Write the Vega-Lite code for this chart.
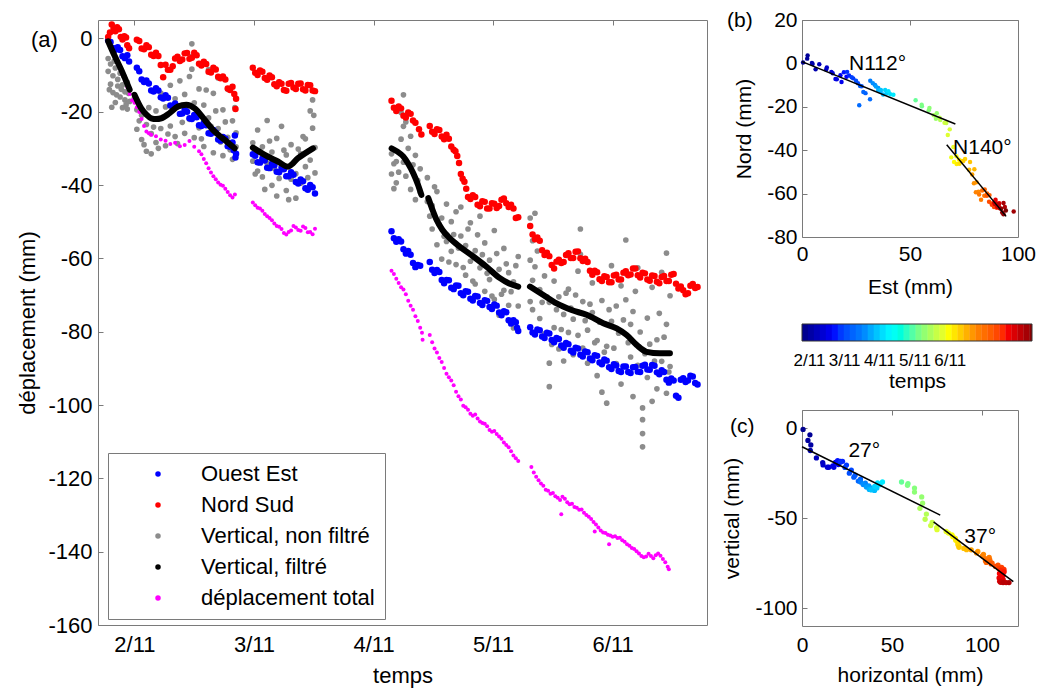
{
  "$schema": "https://vega.github.io/schema/vega-lite/v6.json",
  "background": "white",
  "padding": {"left": 16, "top": 8, "right": 2, "bottom": 2},
  "config": {
    "font": "Liberation Sans",
    "view": {"stroke": "#7a7a7a", "strokeWidth": 1},
    "axis": {"domain": false, "ticks": false, "grid": true, "gridColor": "#7a7a7a", "gridDash": [5, 3000], "gridOpacity": 1, "gridWidth": 1, "labelColor": "#000000", "titleColor": "#000000", "titleFontWeight": "normal", "labelFont": "Liberation Sans", "titleFont": "Liberation Sans", "labelFlush": false, "labelOverlap": false, "labelBound": false},
    "title": {"fontWeight": "normal", "color": "#000000", "font": "Liberation Sans"},
    "text": {"font": "Liberation Sans", "color": "#000000"}
  },
  "datasets": {
    "oe": [
      {"t":1.78,"v":-0.5},{"t":1.82,"v":-2.6},{"t":1.86,"v":-2.4},{"t":1.90,"v":-4.9},{"t":1.94,"v":-4.6},{"t":1.955,"v":-6.3},{"t":2.02,"v":-8.0},{"t":2.06,"v":-11.2},{"t":2.10,"v":-11.5},{"t":2.14,"v":-14.2},{"t":2.18,"v":-13.6},{"t":2.22,"v":-16.1},{"t":2.26,"v":-15.5},{"t":2.30,"v":-18.3},{"t":2.34,"v":-17.8},{"t":2.38,"v":-20.6},{"t":2.42,"v":-19.4},{"t":2.46,"v":-21.8},{"t":2.50,"v":-20.9},{"t":2.54,"v":-23.7},{"t":2.58,"v":-23.0},{"t":2.62,"v":-25.9},{"t":2.66,"v":-25.0},{"t":2.70,"v":-27.6},{"t":2.74,"v":-26.9},{"t":2.78,"v":-29.4},{"t":2.82,"v":-28.4},{"t":2.84,"v":-26.5},{"t":2.845,"v":-32.5},{"t":2.85,"v":-31.5},
      {"t":1.80,"v":-1.0},{"t":1.84,"v":-3.1},{"t":1.88,"v":-3.2},{"t":1.92,"v":-5.4},{"t":2.04,"v":-9.0},{"t":2.08,"v":-11.9},{"t":2.12,"v":-12.3},{"t":2.16,"v":-14.5},{"t":2.20,"v":-14.2},{"t":2.24,"v":-16.4},{"t":2.28,"v":-16.2},{"t":2.32,"v":-18.6},{"t":2.36,"v":-18.5},{"t":2.40,"v":-20.5},{"t":2.44,"v":-20.0},{"t":2.48,"v":-22.0},{"t":2.52,"v":-21.5},{"t":2.56,"v":-23.9},{"t":2.60,"v":-23.7},{"t":2.64,"v":-26.0},{"t":2.68,"v":-25.7},{"t":2.72,"v":-27.9},{"t":2.76,"v":-27.4},{"t":2.80,"v":-29.6},{"t":2.83,"v":-30.5},
      {"t":2.99,"v":-31.6},{"t":3.03,"v":-33.8},{"t":3.07,"v":-32.8},{"t":3.11,"v":-35.3},{"t":3.15,"v":-34.2},{"t":3.19,"v":-36.4},{"t":3.23,"v":-35.3},{"t":3.27,"v":-37.6},{"t":3.31,"v":-36.5},{"t":3.35,"v":-39.2},{"t":3.39,"v":-38.5},{"t":3.43,"v":-40.9},{"t":3.47,"v":-40.0},{"t":3.51,"v":-42.3},
      {"t":3.01,"v":-32.0},{"t":3.05,"v":-33.9},{"t":3.09,"v":-33.3},{"t":3.13,"v":-35.4},{"t":3.17,"v":-34.6},{"t":3.21,"v":-36.5},{"t":3.25,"v":-35.7},{"t":3.29,"v":-37.6},{"t":3.33,"v":-37.2},{"t":3.37,"v":-39.6},{"t":3.41,"v":-39.0},{"t":3.45,"v":-41.3},{"t":3.49,"v":-40.6},
      {"t":4.15,"v":-52.6},{"t":4.19,"v":-55.5},{"t":4.23,"v":-55.4},{"t":4.27,"v":-58.7},{"t":4.31,"v":-59.0},{"t":4.35,"v":-62.4},{"t":4.39,"v":-62.0},{"t":4.47,"v":-61.0},{"t":4.51,"v":-64.0},{"t":4.55,"v":-63.7},{"t":4.59,"v":-66.8},{"t":4.63,"v":-66.0},{"t":4.67,"v":-68.4},{"t":4.71,"v":-67.5},{"t":4.75,"v":-70.1},{"t":4.79,"v":-69.1},{"t":4.83,"v":-71.5},{"t":4.87,"v":-70.4},{"t":4.91,"v":-72.7},{"t":4.95,"v":-71.6},{"t":4.99,"v":-73.8},{"t":5.03,"v":-72.9},{"t":5.07,"v":-75.5},{"t":5.11,"v":-74.7},{"t":5.15,"v":-77.8},{"t":5.19,"v":-77.4},{"t":5.21,"v":-79.8},
      {"t":4.17,"v":-54.5},{"t":4.21,"v":-54.8},{"t":4.25,"v":-57.5},{"t":4.29,"v":-58.0},{"t":4.33,"v":-61.3},{"t":4.37,"v":-61.8},{"t":4.49,"v":-63.1},{"t":4.53,"v":-63.2},{"t":4.57,"v":-65.9},{"t":4.61,"v":-65.9},{"t":4.65,"v":-68.0},{"t":4.69,"v":-67.4},{"t":4.73,"v":-69.5},{"t":4.77,"v":-69.0},{"t":4.81,"v":-71.0},{"t":4.85,"v":-70.3},{"t":4.89,"v":-72.2},{"t":4.93,"v":-71.4},{"t":4.97,"v":-73.3},{"t":5.01,"v":-72.6},{"t":5.05,"v":-74.8},{"t":5.09,"v":-74.4},{"t":5.13,"v":-76.9},{"t":5.17,"v":-76.9},{"t":5.20,"v":-78.9},
      {"t":5.31,"v":-78.8},{"t":5.35,"v":-80.8},{"t":5.39,"v":-79.6},{"t":5.43,"v":-81.7},{"t":5.47,"v":-80.5},{"t":5.51,"v":-82.9},{"t":5.55,"v":-82.0},{"t":5.59,"v":-84.4},{"t":5.63,"v":-83.4},{"t":5.67,"v":-85.7},{"t":5.71,"v":-84.6},{"t":5.75,"v":-86.8},{"t":5.79,"v":-85.6},{"t":5.83,"v":-87.8},{"t":5.87,"v":-86.6},{"t":5.91,"v":-88.9},{"t":5.95,"v":-87.9},{"t":5.99,"v":-90.2},{"t":6.03,"v":-89.2},{"t":6.07,"v":-91.0},{"t":6.11,"v":-89.5},{"t":6.15,"v":-91.3},{"t":6.19,"v":-89.6},{"t":6.23,"v":-91.0},{"t":6.27,"v":-89.0},{"t":6.31,"v":-90.4},{"t":6.35,"v":-89.3},{"t":6.39,"v":-91.6},{"t":6.43,"v":-91.0},{"t":6.47,"v":-93.9},{"t":6.51,"v":-93.3},{"t":6.53,"v":-97.5},{"t":6.55,"v":-98.0},{"t":6.59,"v":-92.7},{"t":6.63,"v":-93.3},{"t":6.67,"v":-92.2},{"t":6.71,"v":-94.4},
      {"t":5.33,"v":-80.2},{"t":5.37,"v":-79.4},{"t":5.41,"v":-81.3},{"t":5.45,"v":-80.3},{"t":5.49,"v":-82.3},{"t":5.53,"v":-81.7},{"t":5.57,"v":-83.8},{"t":5.61,"v":-83.1},{"t":5.65,"v":-85.2},{"t":5.69,"v":-84.4},{"t":5.73,"v":-86.3},{"t":5.77,"v":-85.4},{"t":5.81,"v":-87.3},{"t":5.85,"v":-86.4},{"t":5.89,"v":-88.4},{"t":5.93,"v":-87.6},{"t":5.97,"v":-89.7},{"t":6.01,"v":-88.9},{"t":6.05,"v":-90.7},{"t":6.09,"v":-89.5},{"t":6.13,"v":-91.0},{"t":6.17,"v":-89.7},{"t":6.21,"v":-90.9},{"t":6.25,"v":-89.3},{"t":6.29,"v":-90.3},{"t":6.33,"v":-89.1},{"t":6.37,"v":-91.1},{"t":6.41,"v":-90.5},{"t":6.45,"v":-93.1},{"t":6.49,"v":-92.8},{"t":6.57,"v":-93.1},{"t":6.61,"v":-93.7},{"t":6.65,"v":-92.0},{"t":6.69,"v":-94.0}
    ],
    "ns": [
      {"t":1.78,"v":0.4},{"t":1.81,"v":3.8},{"t":1.84,"v":1.9},{"t":1.87,"v":2.5},{"t":1.90,"v":-0.3},{"t":1.93,"v":0.2},{"t":1.955,"v":-2.7},{"t":2.02,"v":-0.4},{"t":2.06,"v":-2.8},{"t":2.10,"v":-1.9},{"t":2.14,"v":-4.5},{"t":2.18,"v":-3.9},{"t":2.22,"v":-7.3},{"t":2.24,"v":-10.6},{"t":2.26,"v":-7.2},{"t":2.30,"v":-8.6},{"t":2.34,"v":-5.5},{"t":2.38,"v":-6.2},{"t":2.42,"v":-4.1},{"t":2.46,"v":-5.6},{"t":2.50,"v":-3.9},{"t":2.54,"v":-6.9},{"t":2.58,"v":-6.4},{"t":2.62,"v":-9.1},{"t":2.66,"v":-8.0},{"t":2.70,"v":-10.5},{"t":2.74,"v":-10.4},{"t":2.78,"v":-13.7},{"t":2.82,"v":-13.2},{"t":2.845,"v":-19.3},{"t":2.85,"v":-16.5},
      {"t":1.795,"v":1.6},{"t":1.825,"v":2.7},{"t":1.855,"v":3.0},{"t":1.885,"v":0.4},{"t":1.915,"v":0.6},{"t":1.94,"v":-1.9},{"t":2.04,"v":-0.7},{"t":2.08,"v":-3.0},{"t":2.12,"v":-2.4},{"t":2.16,"v":-4.8},{"t":2.20,"v":-4.8},{"t":2.28,"v":-8.6},{"t":2.32,"v":-7.6},{"t":2.36,"v":-5.0},{"t":2.40,"v":-5.8},{"t":2.44,"v":-4.0},{"t":2.48,"v":-5.3},{"t":2.52,"v":-4.6},{"t":2.56,"v":-7.4},{"t":2.60,"v":-7.0},{"t":2.64,"v":-9.3},{"t":2.68,"v":-8.5},{"t":2.72,"v":-10.9},{"t":2.76,"v":-11.2},{"t":2.80,"v":-14.1},{"t":2.835,"v":-15.2},
      {"t":2.99,"v":-8.0},{"t":3.03,"v":-10.0},{"t":3.07,"v":-9.1},{"t":3.11,"v":-11.3},{"t":3.15,"v":-10.6},{"t":3.19,"v":-13.1},{"t":3.23,"v":-12.4},{"t":3.27,"v":-14.3},{"t":3.31,"v":-12.2},{"t":3.35,"v":-13.8},{"t":3.39,"v":-12.3},{"t":3.43,"v":-14.2},{"t":3.47,"v":-12.8},{"t":3.51,"v":-14.4},
      {"t":3.01,"v":-9.4},{"t":3.05,"v":-8.8},{"t":3.09,"v":-10.8},{"t":3.13,"v":-10.1},{"t":3.17,"v":-12.5},{"t":3.21,"v":-12.0},{"t":3.25,"v":-14.1},{"t":3.29,"v":-12.4},{"t":3.33,"v":-13.4},{"t":3.37,"v":-12.4},{"t":3.41,"v":-13.9},{"t":3.45,"v":-12.7},{"t":3.49,"v":-14.2},
      {"t":4.15,"v":-17.0},{"t":4.19,"v":-19.8},{"t":4.23,"v":-19.1},{"t":4.27,"v":-21.6},{"t":4.31,"v":-20.6},{"t":4.35,"v":-23.0},{"t":4.38,"v":-24.8},{"t":4.40,"v":-26.2},{"t":4.47,"v":-23.9},{"t":4.51,"v":-26.1},{"t":4.55,"v":-25.0},{"t":4.59,"v":-27.5},{"t":4.63,"v":-27.4},{"t":4.67,"v":-30.4},{"t":4.70,"v":-32.1},{"t":4.73,"v":-37.0},{"t":4.76,"v":-39.1},{"t":4.79,"v":-43.3},{"t":4.83,"v":-42.8},{"t":4.87,"v":-45.4},{"t":4.91,"v":-44.4},{"t":4.95,"v":-46.4},{"t":4.99,"v":-45.0},{"t":5.03,"v":-46.3},{"t":5.07,"v":-44.0},{"t":5.11,"v":-45.0},{"t":5.15,"v":-45.4},{"t":5.19,"v":-49.0},{"t":5.21,"v":-48.8},
      {"t":4.17,"v":-18.9},{"t":4.21,"v":-18.6},{"t":4.25,"v":-21.1},{"t":4.29,"v":-20.2},{"t":4.33,"v":-22.4},{"t":4.49,"v":-25.5},{"t":4.53,"v":-24.8},{"t":4.57,"v":-26.8},{"t":4.61,"v":-26.3},{"t":4.65,"v":-29.5},{"t":4.685,"v":-30.8},{"t":4.715,"v":-34.0},{"t":4.745,"v":-38.3},{"t":4.775,"v":-41.0},{"t":4.81,"v":-43.8},{"t":4.85,"v":-43.3},{"t":4.89,"v":-45.8},{"t":4.93,"v":-44.6},{"t":4.97,"v":-46.4},{"t":5.01,"v":-45.1},{"t":5.05,"v":-45.7},{"t":5.09,"v":-43.7},{"t":5.13,"v":-46.0},{"t":5.17,"v":-46.4},
      {"t":5.31,"v":-51.2},{"t":5.35,"v":-54.8},{"t":5.39,"v":-55.2},{"t":5.43,"v":-59.1},{"t":5.47,"v":-59.4},{"t":5.51,"v":-62.8},{"t":5.55,"v":-60.4},{"t":5.59,"v":-61.0},{"t":5.63,"v":-58.6},{"t":5.67,"v":-59.9},{"t":5.71,"v":-58.1},{"t":5.75,"v":-60.7},{"t":5.79,"v":-61.0},{"t":5.83,"v":-64.5},{"t":5.87,"v":-63.8},{"t":5.91,"v":-66.2},{"t":5.95,"v":-65.1},{"t":5.99,"v":-66.5},{"t":6.03,"v":-64.5},{"t":6.07,"v":-65.8},{"t":6.11,"v":-63.5},{"t":6.15,"v":-64.4},{"t":6.19,"v":-62.8},{"t":6.23,"v":-65.2},{"t":6.27,"v":-64.1},{"t":6.31,"v":-66.1},{"t":6.35,"v":-64.8},{"t":6.39,"v":-66.8},{"t":6.43,"v":-64.8},{"t":6.47,"v":-66.2},{"t":6.51,"v":-64.3},{"t":6.55,"v":-68.2},{"t":6.59,"v":-68.7},{"t":6.63,"v":-69.5},{"t":6.67,"v":-67.0},{"t":6.71,"v":-67.8},
      {"t":5.33,"v":-53.5},{"t":5.37,"v":-54.3},{"t":5.41,"v":-57.8},{"t":5.45,"v":-58.5},{"t":5.49,"v":-61.8},{"t":5.53,"v":-60.9},{"t":5.57,"v":-61.3},{"t":5.61,"v":-59.1},{"t":5.65,"v":-59.9},{"t":5.69,"v":-58.2},{"t":5.73,"v":-60.0},{"t":5.77,"v":-60.1},{"t":5.81,"v":-63.4},{"t":5.85,"v":-63.4},{"t":5.89,"v":-65.7},{"t":5.93,"v":-64.9},{"t":5.97,"v":-66.5},{"t":6.01,"v":-64.7},{"t":6.05,"v":-65.8},{"t":6.09,"v":-63.9},{"t":6.13,"v":-64.6},{"t":6.17,"v":-62.8},{"t":6.21,"v":-64.6},{"t":6.25,"v":-63.9},{"t":6.29,"v":-65.8},{"t":6.33,"v":-64.7},{"t":6.37,"v":-66.4},{"t":6.41,"v":-65.1},{"t":6.45,"v":-66.2},{"t":6.49,"v":-64.5},{"t":6.53,"v":-66.9},{"t":6.57,"v":-67.7},{"t":6.61,"v":-69.8},{"t":6.65,"v":-67.5},{"t":6.69,"v":-68.1}
    ],
    "vnf": [
      {"t":1.78,"v":-5.5},{"t":1.78,"v":-9.0},{"t":1.79,"v":-14.0},{"t":1.80,"v":-12.5},{"t":1.80,"v":-7.0},{"t":1.81,"v":-18.8},{"t":1.82,"v":-14.8},{"t":1.82,"v":-10.2},{"t":1.83,"v":-6.2},{"t":1.84,"v":-8.1},{"t":1.84,"v":-17.5},{"t":1.85,"v":-15.4},{"t":1.86,"v":-13.0},{"t":1.86,"v":-11.2},{"t":1.87,"v":-7.8},{"t":1.88,"v":-16.0},{"t":1.88,"v":-9.5},{"t":1.89,"v":-13.9},{"t":1.90,"v":-18.9},{"t":1.90,"v":-12.7},{"t":1.91,"v":-10.3},{"t":1.92,"v":-14.6},{"t":1.92,"v":-16.8},{"t":1.93,"v":-18.1},{"t":1.94,"v":-19.3},{"t":1.94,"v":-12.0},{"t":1.95,"v":-15.0},{"t":1.96,"v":-17.2},
      {"t":2.00,"v":-16.3},{"t":2.02,"v":-19.5},{"t":2.02,"v":-24.8},{"t":2.04,"v":-22.5},{"t":2.06,"v":-27.6},{"t":2.06,"v":-21.0},{"t":2.08,"v":-29.0},{"t":2.10,"v":-30.8},{"t":2.10,"v":-23.5},{"t":2.12,"v":-18.9},{"t":2.14,"v":-26.0},{"t":2.14,"v":-31.5},{"t":2.16,"v":-24.2},{"t":2.18,"v":-19.8},{"t":2.18,"v":-28.4},{"t":2.20,"v":-30.0},{"t":2.22,"v":-24.6},{"t":2.22,"v":-14.9},{"t":2.24,"v":-21.5},{"t":2.26,"v":-29.3},{"t":2.26,"v":-18.7},{"t":2.28,"v":-26.1},{"t":2.30,"v":-12.8},{"t":2.30,"v":-23.9},{"t":2.32,"v":-19.0},{"t":2.34,"v":-26.8},{"t":2.34,"v":-16.5},{"t":2.36,"v":-28.7},{"t":2.38,"v":-20.7},{"t":2.38,"v":-11.6},{"t":2.40,"v":-22.9},{"t":2.42,"v":-25.9},{"t":2.42,"v":-15.3},{"t":2.44,"v":-18.6},{"t":2.46,"v":-10.4},{"t":2.46,"v":-22.1},{"t":2.48,"v":-1.5},{"t":2.48,"v":-5.0},{"t":2.48,"v":-8.4},{"t":2.50,"v":-27.1},{"t":2.50,"v":-17.6},{"t":2.52,"v":-21.3},{"t":2.54,"v":-13.8},{"t":2.54,"v":-24.4},{"t":2.56,"v":-27.4},{"t":2.58,"v":-29.5},{"t":2.58,"v":-18.2},{"t":2.60,"v":-14.1},{"t":2.62,"v":-8.5},{"t":2.62,"v":-21.7},{"t":2.64,"v":-24.0},{"t":2.66,"v":-31.2},{"t":2.66,"v":-15.0},{"t":2.68,"v":-19.8},{"t":2.70,"v":-24.6},{"t":2.70,"v":-10.8},{"t":2.72,"v":-28.3},{"t":2.74,"v":-32.0},{"t":2.74,"v":-19.5},{"t":2.76,"v":-22.8},{"t":2.78,"v":-27.0},{"t":2.78,"v":-13.9},{"t":2.80,"v":-30.4},{"t":2.82,"v":-33.0},{"t":2.82,"v":-22.5},{"t":2.84,"v":-18.9},{"t":2.85,"v":-29.6},{"t":2.85,"v":-25.8},
      {"t":2.99,"v":-28.5},{"t":2.99,"v":-33.5},{"t":3.01,"v":-37.0},{"t":3.03,"v":-25.0},{"t":3.03,"v":-36.2},{"t":3.05,"v":-31.0},{"t":3.07,"v":-37.8},{"t":3.07,"v":-29.6},{"t":3.09,"v":-41.2},{"t":3.11,"v":-22.4},{"t":3.11,"v":-34.1},{"t":3.13,"v":-28.0},{"t":3.15,"v":-40.1},{"t":3.15,"v":-31.0},{"t":3.17,"v":-35.5},{"t":3.19,"v":-27.3},{"t":3.19,"v":-43.0},{"t":3.21,"v":-38.2},{"t":3.23,"v":-35.8},{"t":3.23,"v":-24.0},{"t":3.25,"v":-30.5},{"t":3.27,"v":-41.5},{"t":3.27,"v":-31.8},{"t":3.29,"v":-44.0},{"t":3.31,"v":-29.0},{"t":3.31,"v":-38.4},{"t":3.33,"v":-34.0},{"t":3.35,"v":-36.9},{"t":3.35,"v":-43.6},{"t":3.37,"v":-30.2},{"t":3.39,"v":-31.5},{"t":3.39,"v":-39.5},{"t":3.41,"v":-26.8},{"t":3.43,"v":-27.4},{"t":3.43,"v":-35.0},{"t":3.45,"v":-38.0},{"t":3.47,"v":-19.8},{"t":3.47,"v":-33.2},{"t":3.49,"v":-16.8},{"t":3.49,"v":-24.5},{"t":3.50,"v":-21.0},{"t":3.51,"v":-29.8},{"t":3.51,"v":-36.7},
      {"t":4.15,"v":-31.5},{"t":4.15,"v":-37.0},{"t":4.17,"v":-41.0},{"t":4.17,"v":-34.2},{"t":4.19,"v":-33.6},{"t":4.19,"v":-39.4},{"t":4.21,"v":-36.5},{"t":4.23,"v":-20.2},{"t":4.23,"v":-27.5},{"t":4.25,"v":-15.4},{"t":4.25,"v":-24.0},{"t":4.25,"v":-33.8},{"t":4.27,"v":-22.8},{"t":4.27,"v":-37.6},{"t":4.29,"v":-30.0},{"t":4.31,"v":-26.7},{"t":4.31,"v":-41.2},{"t":4.33,"v":-34.5},{"t":4.35,"v":-31.9},{"t":4.35,"v":-44.0},{"t":4.37,"v":-38.8},{"t":4.39,"v":-35.6},{"t":4.39,"v":-42.0},{"t":4.45,"v":-44.5},{"t":4.45,"v":-38.0},{"t":4.47,"v":-48.5},{"t":4.49,"v":-52.0},{"t":4.49,"v":-45.6},{"t":4.51,"v":-40.5},{"t":4.53,"v":-41.8},{"t":4.53,"v":-56.3},{"t":4.55,"v":-50.8},{"t":4.57,"v":-49.0},{"t":4.57,"v":-60.2},{"t":4.59,"v":-54.0},{"t":4.61,"v":-45.2},{"t":4.61,"v":-55.4},{"t":4.63,"v":-61.0},{"t":4.65,"v":-58.1},{"t":4.65,"v":-50.0},{"t":4.67,"v":-53.5},{"t":4.69,"v":-47.3},{"t":4.69,"v":-61.7},{"t":4.71,"v":-57.2},{"t":4.73,"v":-53.9},{"t":4.73,"v":-46.0},{"t":4.75,"v":-62.5},{"t":4.77,"v":-64.6},{"t":4.77,"v":-56.5},{"t":4.79,"v":-52.0},{"t":4.81,"v":-50.3},{"t":4.81,"v":-60.8},{"t":4.83,"v":-66.2},{"t":4.85,"v":-67.0},{"t":4.85,"v":-57.9},{"t":4.87,"v":-53.6},{"t":4.89,"v":-48.5},{"t":4.89,"v":-62.6},{"t":4.91,"v":-59.0},{"t":4.93,"v":-55.8},{"t":4.93,"v":-69.0},{"t":4.95,"v":-64.1},{"t":4.97,"v":-60.5},{"t":4.97,"v":-65.8},{"t":4.99,"v":-70.3},{"t":5.01,"v":-52.4},{"t":5.01,"v":-71.2},{"t":5.03,"v":-58.7},{"t":5.05,"v":-63.0},{"t":5.05,"v":-75.5},{"t":5.07,"v":-69.8},{"t":5.09,"v":-57.3},{"t":5.09,"v":-68.7},{"t":5.11,"v":-61.5},{"t":5.13,"v":-72.8},{"t":5.13,"v":-63.9},{"t":5.15,"v":-69.1},{"t":5.17,"v":-79.0},{"t":5.17,"v":-66.4},{"t":5.19,"v":-62.0},{"t":5.21,"v":-59.5},{"t":5.21,"v":-73.0},
      {"t":5.31,"v":-49.0},{"t":5.31,"v":-60.5},{"t":5.31,"v":-71.8},{"t":5.33,"v":-55.2},{"t":5.33,"v":-66.0},{"t":5.33,"v":-74.0},{"t":5.35,"v":-47.7},{"t":5.35,"v":-62.3},{"t":5.37,"v":-58.0},{"t":5.39,"v":-68.5},{"t":5.39,"v":-76.4},{"t":5.41,"v":-72.0},{"t":5.43,"v":-64.8},{"t":5.43,"v":-80.6},{"t":5.45,"v":-70.5},{"t":5.47,"v":-88.6},{"t":5.47,"v":-95.0},{"t":5.47,"v":-72.0},{"t":5.49,"v":-83.5},{"t":5.51,"v":-66.2},{"t":5.51,"v":-78.9},{"t":5.53,"v":-74.0},{"t":5.55,"v":-70.5},{"t":5.55,"v":-84.7},{"t":5.57,"v":-79.4},{"t":5.59,"v":-88.0},{"t":5.59,"v":-75.3},{"t":5.61,"v":-69.5},{"t":5.63,"v":-68.4},{"t":5.63,"v":-80.2},{"t":5.65,"v":-73.6},{"t":5.67,"v":-76.6},{"t":5.67,"v":-86.3},{"t":5.69,"v":-70.0},{"t":5.71,"v":-63.5},{"t":5.71,"v":-81.0},{"t":5.73,"v":-52.0},{"t":5.73,"v":-58.9},{"t":5.75,"v":-71.8},{"t":5.75,"v":-84.5},{"t":5.77,"v":-77.0},{"t":5.79,"v":-79.6},{"t":5.79,"v":-88.6},{"t":5.81,"v":-72.5},{"t":5.83,"v":-66.7},{"t":5.83,"v":-74.8},{"t":5.85,"v":-83.0},{"t":5.87,"v":-82.4},{"t":5.87,"v":-92.0},{"t":5.89,"v":-77.4},{"t":5.91,"v":-71.5},{"t":5.91,"v":-96.5},{"t":5.93,"v":-85.6},{"t":5.95,"v":-84.0},{"t":5.95,"v":-99.5},{"t":5.97,"v":-74.0},{"t":5.99,"v":-62.0},{"t":5.99,"v":-77.2},{"t":6.01,"v":-84.5},{"t":6.03,"v":-88.7},{"t":6.03,"v":-73.0},{"t":6.05,"v":-80.4},{"t":6.07,"v":-67.5},{"t":6.07,"v":-94.3},{"t":6.09,"v":-76.8},{"t":6.11,"v":-55.0},{"t":6.11,"v":-64.2},{"t":6.11,"v":-71.3},{"t":6.13,"v":-83.0},{"t":6.15,"v":-86.9},{"t":6.15,"v":-78.0},{"t":6.17,"v":-97.7},{"t":6.17,"v":-74.5},{"t":6.19,"v":-69.0},{"t":6.21,"v":-62.6},{"t":6.21,"v":-89.2},{"t":6.23,"v":-80.1},{"t":6.25,"v":-100.8},{"t":6.25,"v":-104.0},{"t":6.25,"v":-107.8},{"t":6.25,"v":-111.4},{"t":6.27,"v":-86.0},{"t":6.29,"v":-76.3},{"t":6.29,"v":-92.5},{"t":6.31,"v":-83.4},{"t":6.33,"v":-67.9},{"t":6.33,"v":-99.0},{"t":6.35,"v":-88.0},{"t":6.37,"v":-82.2},{"t":6.37,"v":-95.6},{"t":6.39,"v":-75.0},{"t":6.41,"v":-63.8},{"t":6.41,"v":-88.1},{"t":6.43,"v":-81.5},{"t":6.45,"v":-58.6},{"t":6.45,"v":-96.8},{"t":6.45,"v":-78.0},{"t":6.47,"v":-91.0},{"t":6.48,"v":-70.2},{"t":6.48,"v":-89.5}
    ],
    "vf": [
      {"g":1,"t":1.78,"v":-0.8},{"g":1,"t":1.83,"v":-4.5},{"g":1,"t":1.89,"v":-8.6},{"g":1,"t":1.96,"v":-14.0},
      {"g":2,"t":2.0,"v":-15.4},{"g":2,"t":2.057,"v":-19.1},{"g":2,"t":2.10,"v":-20.8},{"g":2,"t":2.141,"v":-21.8},{"g":2,"t":2.18,"v":-22.0},{"g":2,"t":2.225,"v":-21.8},{"g":2,"t":2.294,"v":-20.4},{"g":2,"t":2.364,"v":-18.6},{"g":2,"t":2.434,"v":-18.1},{"g":2,"t":2.504,"v":-19.1},{"g":2,"t":2.587,"v":-22.2},{"g":2,"t":2.657,"v":-25.0},{"g":2,"t":2.755,"v":-27.7},{"g":2,"t":2.838,"v":-30.0},
      {"g":3,"t":2.99,"v":-29.8},{"g":3,"t":3.09,"v":-31.8},{"g":3,"t":3.2,"v":-33.6},{"g":3,"t":3.284,"v":-35.0},{"g":3,"t":3.368,"v":-32.7},{"g":3,"t":3.493,"v":-30.0},
      {"g":4,"t":4.151,"v":-30.0},{"g":4,"t":4.20,"v":-30.9},{"g":4,"t":4.248,"v":-32.2},{"g":4,"t":4.29,"v":-34.2},{"g":4,"t":4.332,"v":-36.8},{"g":4,"t":4.37,"v":-39.8},{"g":4,"t":4.40,"v":-42.7},
      {"g":5,"t":4.458,"v":-43.6},{"g":5,"t":4.49,"v":-46.5},{"g":5,"t":4.527,"v":-49.5},{"g":5,"t":4.575,"v":-52.2},{"g":5,"t":4.625,"v":-54.1},{"g":5,"t":4.67,"v":-55.5},{"g":5,"t":4.72,"v":-56.8},{"g":5,"t":4.834,"v":-59.5},{"g":5,"t":4.945,"v":-62.3},{"g":5,"t":5.057,"v":-65.4},{"g":5,"t":5.13,"v":-66.8},{"g":5,"t":5.21,"v":-67.7},
      {"g":6,"t":5.308,"v":-67.7},{"g":6,"t":5.42,"v":-70.0},{"g":6,"t":5.531,"v":-72.3},{"g":6,"t":5.656,"v":-74.1},{"g":6,"t":5.782,"v":-75.4},{"g":6,"t":5.921,"v":-77.7},{"g":6,"t":6.033,"v":-79.1},{"g":6,"t":6.117,"v":-80.9},{"g":6,"t":6.2,"v":-83.6},{"g":6,"t":6.284,"v":-85.5},{"g":6,"t":6.395,"v":-85.9},{"g":6,"t":6.479,"v":-85.9}
    ],
    "tot": [
      {"t":1.78,"v":-1.0},{"t":1.80,"v":-2.3},{"t":1.82,"v":-3.6},{"t":1.84,"v":-5.0},{"t":1.86,"v":-6.6},{"t":1.88,"v":-8.3},{"t":1.90,"v":-9.8},{"t":1.92,"v":-11.5},{"t":1.94,"v":-13.3},{"t":1.96,"v":-15.2},{"t":1.98,"v":-16.9},{"t":2.00,"v":-17.6},{"t":2.02,"v":-18.8},{"t":2.04,"v":-20.1},{"t":2.06,"v":-22.0},{"t":2.08,"v":-23.9},{"t":2.10,"v":-25.4},{"t":2.12,"v":-25.9},{"t":2.14,"v":-26.3},{"t":2.18,"v":-26.7},{"t":2.22,"v":-27.6},{"t":2.26,"v":-27.9},{"t":2.30,"v":-28.8},{"t":2.34,"v":-28.5},{"t":2.38,"v":-29.4},{"t":2.42,"v":-29.1},{"t":2.46,"v":-28.0},{"t":2.50,"v":-29.6},{"t":2.54,"v":-30.8},{"t":2.56,"v":-31.6},{"t":2.58,"v":-32.9},{"t":2.60,"v":-34.1},{"t":2.62,"v":-35.4},{"t":2.64,"v":-36.6},{"t":2.66,"v":-37.6},{"t":2.68,"v":-38.4},{"t":2.70,"v":-39.3},{"t":2.72,"v":-39.9},{"t":2.74,"v":-40.2},{"t":2.76,"v":-41.0},{"t":2.78,"v":-41.9},{"t":2.80,"v":-42.8},{"t":2.82,"v":-43.4},{"t":2.84,"v":-42.6},
      {"t":2.99,"v":-44.8},{"t":3.01,"v":-45.5},{"t":3.03,"v":-46.2},{"t":3.05,"v":-46.4},{"t":3.07,"v":-47.0},{"t":3.09,"v":-47.9},{"t":3.11,"v":-48.5},{"t":3.13,"v":-49.0},{"t":3.15,"v":-49.6},{"t":3.17,"v":-50.5},{"t":3.19,"v":-51.2},{"t":3.21,"v":-51.4},{"t":3.23,"v":-52.0},{"t":3.25,"v":-53.1},{"t":3.27,"v":-53.5},{"t":3.29,"v":-52.8},{"t":3.31,"v":-52.4},{"t":3.33,"v":-51.2},{"t":3.35,"v":-51.6},{"t":3.37,"v":-52.3},{"t":3.39,"v":-52.5},{"t":3.41,"v":-51.3},{"t":3.43,"v":-51.7},{"t":3.45,"v":-52.9},{"t":3.47,"v":-52.8},{"t":3.49,"v":-53.4},{"t":3.51,"v":-51.9},
      {"t":4.15,"v":-63.4},{"t":4.17,"v":-64.3},{"t":4.19,"v":-65.6},{"t":4.21,"v":-66.7},{"t":4.23,"v":-67.9},{"t":4.25,"v":-68.5},{"t":4.27,"v":-69.8},{"t":4.29,"v":-71.6},{"t":4.31,"v":-72.9},{"t":4.33,"v":-74.0},{"t":4.35,"v":-75.8},{"t":4.37,"v":-77.1},{"t":4.39,"v":-78.9},{"t":4.405,"v":-80.3},{"t":4.41,"v":-82.2},{"t":4.47,"v":-80.9},{"t":4.49,"v":-82.9},{"t":4.51,"v":-84.6},{"t":4.53,"v":-85.7},{"t":4.55,"v":-87.2},{"t":4.57,"v":-88.3},{"t":4.59,"v":-89.9},{"t":4.61,"v":-91.5},{"t":4.63,"v":-92.4},{"t":4.65,"v":-93.3},{"t":4.67,"v":-94.6},{"t":4.69,"v":-96.4},{"t":4.71,"v":-97.6},{"t":4.73,"v":-98.5},{"t":4.75,"v":-100.2},{"t":4.77,"v":-100.6},{"t":4.79,"v":-101.3},{"t":4.81,"v":-102.4},{"t":4.83,"v":-102.9},{"t":4.85,"v":-102.6},{"t":4.87,"v":-103.7},{"t":4.89,"v":-104.5},{"t":4.91,"v":-104.9},{"t":4.93,"v":-105.1},{"t":4.95,"v":-105.8},{"t":4.97,"v":-106.8},{"t":4.99,"v":-107.3},{"t":5.01,"v":-107.1},{"t":5.03,"v":-107.9},{"t":5.05,"v":-108.6},{"t":5.07,"v":-109.2},{"t":5.09,"v":-110.2},{"t":5.11,"v":-110.9},{"t":5.13,"v":-111.5},{"t":5.15,"v":-112.6},{"t":5.17,"v":-113.8},{"t":5.19,"v":-114.5},{"t":5.21,"v":-115.3},
      {"t":5.32,"v":-116.9},{"t":5.34,"v":-118.4},{"t":5.36,"v":-119.6},{"t":5.38,"v":-120.5},{"t":5.40,"v":-121.4},{"t":5.42,"v":-122.0},{"t":5.44,"v":-123.1},{"t":5.46,"v":-123.4},{"t":5.48,"v":-124.2},{"t":5.50,"v":-124.0},{"t":5.52,"v":-124.9},{"t":5.54,"v":-125.3},{"t":5.56,"v":-125.9},{"t":5.57,"v":-129.8},{"t":5.58,"v":-125.0},{"t":5.60,"v":-125.6},{"t":5.62,"v":-126.5},{"t":5.64,"v":-127.1},{"t":5.66,"v":-126.9},{"t":5.68,"v":-127.8},{"t":5.70,"v":-128.0},{"t":5.72,"v":-128.6},{"t":5.74,"v":-128.5},{"t":5.76,"v":-129.4},{"t":5.78,"v":-130.0},{"t":5.80,"v":-130.5},{"t":5.82,"v":-131.1},{"t":5.84,"v":-131.9},{"t":5.85,"v":-134.5},{"t":5.86,"v":-132.6},{"t":5.88,"v":-133.4},{"t":5.90,"v":-134.2},{"t":5.92,"v":-134.8},{"t":5.94,"v":-134.9},{"t":5.96,"v":-135.4},{"t":5.97,"v":-138.0},{"t":5.98,"v":-135.6},{"t":6.00,"v":-135.9},{"t":6.02,"v":-135.8},{"t":6.04,"v":-136.3},{"t":6.06,"v":-136.2},{"t":6.08,"v":-136.9},{"t":6.10,"v":-137.3},{"t":6.12,"v":-138.0},{"t":6.14,"v":-138.4},{"t":6.16,"v":-139.0},{"t":6.18,"v":-139.3},{"t":6.20,"v":-139.9},{"t":6.22,"v":-140.5},{"t":6.24,"v":-141.2},{"t":6.26,"v":-141.5},{"t":6.28,"v":-141.3},{"t":6.30,"v":-140.6},{"t":6.32,"v":-141.2},{"t":6.34,"v":-141.8},{"t":6.36,"v":-141.0},{"t":6.38,"v":-140.5},{"t":6.40,"v":-141.1},{"t":6.42,"v":-142.0},{"t":6.44,"v":-142.9},{"t":6.46,"v":-144.1},{"t":6.47,"v":-144.8}
    ],
    "pb": [
      {"t":1.78,"e":0.5,"n":0.4},{"t":1.82,"e":2.6,"n":3.6},{"t":1.86,"e":2.4,"n":2.2},{"t":1.90,"e":4.9,"n":-0.3},{"t":1.94,"e":4.6,"n":0.2},{"t":1.955,"e":6.3,"n":-2.7},{"t":2.02,"e":8.0,"n":-0.4},{"t":2.06,"e":11.2,"n":-2.8},{"t":2.10,"e":11.5,"n":-1.9},{"t":2.14,"e":14.2,"n":-4.5},{"t":2.18,"e":13.6,"n":-3.9},{"t":2.22,"e":16.1,"n":-7.3},{"t":2.26,"e":15.5,"n":-7.2},{"t":2.30,"e":18.3,"n":-8.6},{"t":2.34,"e":17.8,"n":-5.5},{"t":2.38,"e":20.6,"n":-6.2},{"t":2.42,"e":19.4,"n":-4.1},{"t":2.46,"e":21.8,"n":-5.6},{"t":2.50,"e":20.9,"n":-3.9},{"t":2.54,"e":23.7,"n":-6.9},{"t":2.58,"e":23.0,"n":-6.4},{"t":2.62,"e":25.9,"n":-9.1},{"t":2.66,"e":25.0,"n":-8.0},{"t":2.70,"e":27.6,"n":-10.5},{"t":2.74,"e":26.9,"n":-10.4},{"t":2.78,"e":29.4,"n":-13.7},{"t":2.82,"e":28.4,"n":-13.2},{"t":2.845,"e":26.5,"n":-19.3},{"t":2.85,"e":31.5,"n":-16.5},
      {"t":2.99,"e":31.6,"n":-8.0},{"t":3.03,"e":33.8,"n":-10.0},{"t":3.07,"e":32.8,"n":-9.1},{"t":3.11,"e":35.3,"n":-11.3},{"t":3.15,"e":34.2,"n":-10.6},{"t":3.19,"e":36.4,"n":-13.1},{"t":3.23,"e":35.3,"n":-12.4},{"t":3.27,"e":37.6,"n":-14.3},{"t":3.31,"e":36.5,"n":-12.2},{"t":3.35,"e":39.2,"n":-13.8},{"t":3.39,"e":38.5,"n":-12.3},{"t":3.43,"e":40.9,"n":-14.2},{"t":3.47,"e":40.0,"n":-12.8},{"t":3.51,"e":42.3,"n":-14.4},
      {"t":4.15,"e":52.6,"n":-17.0},{"t":4.19,"e":55.5,"n":-19.8},{"t":4.23,"e":55.4,"n":-19.1},{"t":4.27,"e":58.7,"n":-21.6},{"t":4.31,"e":59.0,"n":-20.6},{"t":4.35,"e":62.4,"n":-23.0},{"t":4.39,"e":62.0,"n":-25.5},{"t":4.47,"e":61.0,"n":-23.9},{"t":4.51,"e":64.0,"n":-26.1},{"t":4.55,"e":63.7,"n":-25.0},{"t":4.59,"e":66.8,"n":-27.5},{"t":4.63,"e":66.0,"n":-27.4},{"t":4.67,"e":68.4,"n":-30.4},{"t":4.71,"e":67.5,"n":-33.0},{"t":4.75,"e":70.1,"n":-38.5},{"t":4.79,"e":69.1,"n":-43.3},{"t":4.83,"e":71.5,"n":-42.8},{"t":4.87,"e":70.4,"n":-45.4},{"t":4.91,"e":72.7,"n":-44.4},{"t":4.95,"e":71.6,"n":-46.4},{"t":4.99,"e":73.8,"n":-45.0},{"t":5.03,"e":72.9,"n":-46.3},{"t":5.07,"e":75.5,"n":-44.0},{"t":5.11,"e":74.7,"n":-45.0},{"t":5.15,"e":77.8,"n":-45.4},{"t":5.19,"e":77.4,"n":-49.0},{"t":5.21,"e":79.8,"n":-48.8},
      {"t":5.31,"e":78.8,"n":-51.2},{"t":5.35,"e":80.8,"n":-54.8},{"t":5.39,"e":79.6,"n":-55.2},{"t":5.43,"e":81.7,"n":-59.1},{"t":5.47,"e":80.5,"n":-59.4},{"t":5.51,"e":82.9,"n":-62.8},{"t":5.55,"e":82.0,"n":-60.4},{"t":5.59,"e":84.4,"n":-61.0},{"t":5.63,"e":83.4,"n":-58.6},{"t":5.67,"e":85.7,"n":-59.9},{"t":5.71,"e":84.6,"n":-58.1},{"t":5.75,"e":86.8,"n":-60.7},{"t":5.79,"e":85.6,"n":-61.0},{"t":5.83,"e":87.8,"n":-64.5},{"t":5.87,"e":86.6,"n":-63.8},{"t":5.91,"e":88.9,"n":-66.2},{"t":5.95,"e":87.9,"n":-65.1},{"t":5.99,"e":90.2,"n":-66.5},{"t":6.03,"e":89.2,"n":-64.5},{"t":6.07,"e":91.0,"n":-65.8},{"t":6.11,"e":89.5,"n":-63.5},{"t":6.15,"e":91.3,"n":-64.4},{"t":6.19,"e":89.6,"n":-62.8},{"t":6.23,"e":91.0,"n":-65.2},{"t":6.27,"e":89.0,"n":-64.1},{"t":6.31,"e":90.4,"n":-66.1},{"t":6.35,"e":89.3,"n":-64.8},{"t":6.39,"e":91.6,"n":-66.8},{"t":6.43,"e":91.0,"n":-64.8},{"t":6.47,"e":93.9,"n":-66.2},{"t":6.51,"e":93.3,"n":-64.3},{"t":6.55,"e":98.0,"n":-68.2},{"t":6.59,"e":92.7,"n":-68.7},{"t":6.63,"e":93.3,"n":-69.5},{"t":6.67,"e":92.2,"n":-67.0},{"t":6.71,"e":94.4,"n":-67.8}
    ],
    "pc": [
      {"t":1.78,"h":0.6,"v":-0.8},{"t":1.82,"h":4.4,"v":-3.8},{"t":1.86,"h":3.3,"v":-6.9},{"t":1.90,"h":4.9,"v":-9.4},{"t":1.94,"h":4.6,"v":-12.5},{"t":2.02,"h":8.0,"v":-16.6},{"t":2.06,"h":11.5,"v":-19.2},{"t":2.10,"h":11.7,"v":-20.5},{"t":2.14,"h":14.9,"v":-21.8},{"t":2.18,"h":14.1,"v":-21.8},{"t":2.22,"h":17.7,"v":-21.8},{"t":2.26,"h":17.1,"v":-21.1},{"t":2.30,"h":20.2,"v":-20.3},{"t":2.34,"h":18.6,"v":-19.1},{"t":2.38,"h":21.5,"v":-18.5},{"t":2.42,"h":19.8,"v":-18.2},{"t":2.46,"h":22.5,"v":-18.5},{"t":2.50,"h":21.3,"v":-19.0},{"t":2.54,"h":24.7,"v":-20.6},{"t":2.58,"h":23.9,"v":-21.9},{"t":2.62,"h":27.4,"v":-23.4},{"t":2.66,"h":26.3,"v":-25.1},{"t":2.70,"h":29.5,"v":-26.2},{"t":2.74,"h":28.8,"v":-27.3},{"t":2.78,"h":32.5,"v":-28.4},{"t":2.82,"h":31.3,"v":-29.5},
      {"t":2.99,"h":32.6,"v":-30.0},{"t":3.03,"h":35.2,"v":-30.7},{"t":3.07,"h":34.0,"v":-31.4},{"t":3.11,"h":37.1,"v":-32.1},{"t":3.15,"h":35.8,"v":-32.8},{"t":3.19,"h":38.7,"v":-33.4},{"t":3.23,"h":37.4,"v":-34.1},{"t":3.27,"h":40.3,"v":-34.7},{"t":3.31,"h":38.5,"v":-34.4},{"t":3.35,"h":41.6,"v":-33.3},{"t":3.39,"h":40.4,"v":-32.4},{"t":3.43,"h":43.3,"v":-31.5},{"t":3.47,"h":42.0,"v":-30.5},{"t":3.51,"h":44.7,"v":-30.0},
      {"t":4.15,"h":55.3,"v":-30.0},{"t":4.19,"h":58.9,"v":-30.9},{"t":4.23,"h":58.6,"v":-31.8},{"t":4.27,"h":62.5,"v":-33.4},{"t":4.31,"h":62.5,"v":-35.6},{"t":4.35,"h":66.5,"v":-38.3},{"t":4.39,"h":67.0,"v":-41.8},{"t":4.47,"h":65.5,"v":-44.6},{"t":4.51,"h":69.1,"v":-47.8},{"t":4.55,"h":68.4,"v":-50.7},{"t":4.59,"h":72.3,"v":-52.5},{"t":4.63,"h":71.5,"v":-54.2},{"t":4.67,"h":74.8,"v":-55.4},{"t":4.71,"h":75.0,"v":-56.5},{"t":4.75,"h":80.1,"v":-57.5},{"t":4.79,"h":81.4,"v":-58.4},{"t":4.83,"h":83.3,"v":-59.4},{"t":4.87,"h":83.8,"v":-60.4},{"t":4.91,"h":85.2,"v":-61.4},{"t":4.95,"h":85.4,"v":-62.4},{"t":4.99,"h":86.6,"v":-63.5},{"t":5.03,"h":86.6,"v":-64.7},{"t":5.07,"h":87.2,"v":-65.6},{"t":5.11,"h":87.2,"v":-66.3},{"t":5.15,"h":89.9,"v":-66.9},{"t":5.19,"h":91.4,"v":-67.6},
      {"t":5.31,"h":94.0,"v":-67.7},{"t":5.35,"h":97.7,"v":-68.6},{"t":5.39,"h":97.0,"v":-69.4},{"t":5.43,"h":100.8,"v":-70.2},{"t":5.47,"h":100.2,"v":-71.0},{"t":5.51,"h":104.0,"v":-71.9},{"t":5.55,"h":101.9,"v":-72.6},{"t":5.59,"h":104.3,"v":-73.1},{"t":5.63,"h":101.9,"v":-73.7},{"t":5.67,"h":104.5,"v":-74.2},{"t":5.71,"h":102.4,"v":-74.7},{"t":5.75,"h":105.6,"v":-75.1},{"t":5.79,"h":105.1,"v":-75.5},{"t":5.83,"h":108.9,"v":-76.2},{"t":5.87,"h":107.5,"v":-76.9},{"t":5.91,"h":110.9,"v":-77.5},{"t":5.95,"h":109.4,"v":-78.1},{"t":5.99,"h":112.2,"v":-78.6},{"t":6.03,"h":110.4,"v":-79.1},{"t":6.07,"h":112.3,"v":-79.9},{"t":6.11,"h":109.7,"v":-80.8},{"t":6.15,"h":111.7,"v":-82.0},{"t":6.19,"h":109.5,"v":-83.3},{"t":6.23,"h":111.8,"v":-84.3},{"t":6.27,"h":109.8,"v":-85.2},{"t":6.31,"h":111.8,"v":-85.6},{"t":6.35,"h":110.3,"v":-85.7},{"t":6.39,"h":113.4,"v":-85.9},{"t":6.43,"h":111.7,"v":-85.9},{"t":6.47,"h":115.0,"v":-85.9}
    ],
    "cb": [
      {"t":1.80,"t2":1.98},{"t":1.97,"t2":2.15},{"t":2.14,"t2":2.32},{"t":2.31,"t2":2.49},{"t":2.48,"t2":2.66},{"t":2.65,"t2":2.83},{"t":2.82,"t2":3.00},{"t":2.99,"t2":3.17},{"t":3.16,"t2":3.34},{"t":3.33,"t2":3.51},{"t":3.50,"t2":3.68},{"t":3.67,"t2":3.85},{"t":3.84,"t2":4.02},{"t":4.01,"t2":4.19},{"t":4.18,"t2":4.36},{"t":4.35,"t2":4.53},{"t":4.52,"t2":4.70},{"t":4.69,"t2":4.87},{"t":4.86,"t2":5.04},{"t":5.03,"t2":5.21},{"t":5.20,"t2":5.38},{"t":5.37,"t2":5.55},{"t":5.54,"t2":5.72},{"t":5.71,"t2":5.89},{"t":5.88,"t2":6.06},{"t":6.05,"t2":6.23},{"t":6.22,"t2":6.40},{"t":6.39,"t2":6.57},{"t":6.56,"t2":6.74},{"t":6.73,"t2":6.91},{"t":6.90,"t2":7.08},{"t":7.07,"t2":7.25},{"t":7.24,"t2":7.42},{"t":7.41,"t2":7.59},{"t":7.58,"t2":7.76},{"t":7.75,"t2":7.93},{"t":7.92,"t2":8.10},{"t":8.09,"t2":8.27},{"t":8.26,"t2":8.44}
    ],
    "cbf": [{"t":1.803,"t2":8.338}],
    "lb": [{"x1":0,"y1":0.8,"x2":71,"y2":-27.9},{"x1":67,"y1":-37.5,"x2":94.5,"y2":-70.5}],
    "lc": [{"x1":0,"y1":-10.4,"x2":76.8,"y2":-48.4},{"x1":73.1,"y1":-52.1,"x2":117.4,"y2":-85.4}],
    "tb": [{"x":35,"y":-0.3,"label":"N112°"},{"x":83.5,"y":-38.8,"label":"N140°"}],
    "tc": [{"x":34.6,"y":-12.5,"label":"27°"},{"x":99,"y":-60.8,"label":"37°"}]
  },
  "hconcat": [
    {
      "width": 609,
      "height": 605,
      "title": {"text": "(a)", "anchor": "start", "frame": "group", "dx": -67, "offset": -49, "fontSize": 22, "baseline": "alphabetic"},
      "layer": [
        {
          "data": {"name": "vnf"},
          "mark": {"type": "circle", "size": 32, "opacity": 1},
          "encoding": {
            "x": {"field": "t", "type": "quantitative", "scale": {"domain": [1.695, 6.789], "nice": false, "zero": false},
                  "axis": {"orient": "bottom", "values": [2, 3, 4, 5, 6], "labelExpr": "datum.value + '/11'", "title": "temps", "labelFontSize": 22, "titleFontSize": 22, "labelPadding": 9, "titlePadding": 10}},
            "y": {"field": "v", "type": "quantitative", "scale": {"domain": [-160, 5], "nice": false, "zero": false},
                  "axis": {"orient": "left", "values": [-160, -140, -120, -100, -80, -60, -40, -20, 0], "labelExpr": "replace(datum.label, '−', '-')", "title": "déplacement (mm)", "labelFontSize": 22, "titleFontSize": 22, "labelPadding": 6, "titlePadding": 8}},
            "color": {"datum": "Vertical, non filtré", "type": "nominal",
                      "scale": {"domain": ["Ouest Est", "Nord Sud", "Vertical, non filtré", "Vertical, filtré", "déplacement total"], "range": ["#0000ff", "#ff0000", "#8c8c8c", "#000000", "#ff00ff"]},
                      "legend": {"orient": "none", "legendX": 10, "legendY": 433, "title": null, "direction": "vertical", "strokeColor": "#7a7a7a", "fillColor": "#ffffff", "padding": 10, "labelFontSize": 22, "labelFont": "Liberation Sans", "labelColor": "#000000", "symbolType": "circle", "symbolSize": 30, "symbolOffset": 29, "labelOffset": 32, "rowPadding": 9, "symbolStrokeWidth": 0, "labelLimit": 400}}
          }
        },
        {
          "data": {"name": "oe"},
          "mark": {"type": "circle", "size": 42, "opacity": 1},
          "encoding": {
            "x": {"field": "t", "type": "quantitative", "scale": {"domain": [1.695, 6.789], "nice": false, "zero": false},
                  "axis": {"orient": "top", "values": [2, 3, 4, 5, 6], "labels": false, "title": null}},
            "y": {"field": "v", "type": "quantitative", "scale": {"domain": [-160, 5], "nice": false, "zero": false},
                  "axis": {"orient": "right", "values": [-160, -140, -120, -100, -80, -60, -40, -20, 0], "labels": false, "title": null}},
            "color": {"datum": "Ouest Est", "type": "nominal"}
          }
        },
        {
          "data": {"name": "ns"},
          "mark": {"type": "circle", "size": 42, "opacity": 1},
          "encoding": {
            "x": {"field": "t", "type": "quantitative", "scale": {"domain": [1.695, 6.789], "nice": false, "zero": false}, "axis": null},
            "y": {"field": "v", "type": "quantitative", "scale": {"domain": [-160, 5], "nice": false, "zero": false}, "axis": null},
            "color": {"datum": "Nord Sud", "type": "nominal"}
          }
        },
        {
          "data": {"name": "tot"},
          "mark": {"type": "circle", "size": 16, "opacity": 1},
          "encoding": {
            "x": {"field": "t", "type": "quantitative", "scale": {"domain": [1.695, 6.789], "nice": false, "zero": false}, "axis": null},
            "y": {"field": "v", "type": "quantitative", "scale": {"domain": [-160, 5], "nice": false, "zero": false}, "axis": null},
            "color": {"datum": "déplacement total", "type": "nominal"}
          }
        },
        {
          "data": {"name": "vf"},
          "mark": {"type": "line", "strokeWidth": 6, "interpolate": "monotone", "strokeCap": "round"},
          "encoding": {
            "x": {"field": "t", "type": "quantitative", "scale": {"domain": [1.695, 6.789], "nice": false, "zero": false}, "axis": null},
            "y": {"field": "v", "type": "quantitative", "scale": {"domain": [-160, 5], "nice": false, "zero": false}, "axis": null},
            "detail": {"field": "g", "type": "nominal"},
            "color": {"datum": "Vertical, filtré", "type": "nominal"}
          }
        }
      ],
      "resolve": {"axis": {"x": "independent", "y": "independent"}}
    },
    {
      "vconcat": [
        {
          "width": 216,
          "height": 217,
          "title": {"text": "(b)", "anchor": "start", "frame": "group", "dx": -75, "offset": -39, "fontSize": 21, "baseline": "alphabetic"},
          "layer": [
            {
              "data": {"name": "pb"},
              "mark": {"type": "circle", "size": 20, "opacity": 1},
              "encoding": {
                "x": {"field": "e", "type": "quantitative", "scale": {"domain": [0, 100], "nice": false, "zero": false},
                      "axis": {"orient": "bottom", "values": [0, 50, 100], "title": "Est (mm)", "labelFontSize": 21, "titleFontSize": 21, "labelPadding": 6, "titlePadding": 12}},
                "y": {"field": "n", "type": "quantitative", "scale": {"domain": [-80, 20], "nice": false, "zero": false},
                      "axis": {"orient": "left", "values": [-80, -60, -40, -20, 0, 20], "labelExpr": "replace(datum.label, '−', '-')", "title": "Nord (mm)", "labelFontSize": 21, "titleFontSize": 21, "labelPadding": 5, "titlePadding": 12}},
                "color": {"field": "t", "type": "quantitative", "scale": {"domain": [1.78, 2.396, 3.013, 3.629, 4.245, 4.861, 5.478, 6.094, 6.71], "range": ["#00008f", "#0000ff", "#0080ff", "#00ffff", "#80ff80", "#ffff00", "#ff8000", "#ff0000", "#800000"], "clamp": true}, "legend": null}
              }
            },
            {
              "data": {"name": "lb"},
              "mark": {"type": "rule", "color": "#000000", "strokeWidth": 1.5},
              "encoding": {
                "x": {"field": "x1", "type": "quantitative", "scale": {"domain": [0, 100], "nice": false, "zero": false},
                      "axis": {"orient": "top", "values": [0, 50, 100], "labels": false, "title": null}},
                "y": {"field": "y1", "type": "quantitative", "scale": {"domain": [-80, 20], "nice": false, "zero": false},
                      "axis": {"orient": "right", "values": [-80, -60, -40, -20, 0, 20], "labels": false, "title": null}},
                "x2": {"field": "x2"},
                "y2": {"field": "y2"}
              }
            },
            {
              "data": {"name": "tb"},
              "mark": {"type": "text", "fontSize": 21, "align": "center", "baseline": "middle", "color": "#000000"},
              "encoding": {
                "x": {"field": "x", "type": "quantitative", "scale": {"domain": [0, 100], "nice": false, "zero": false}, "axis": null},
                "y": {"field": "y", "type": "quantitative", "scale": {"domain": [-80, 20], "nice": false, "zero": false}, "axis": null},
                "text": {"field": "label"}
              }
            }
          ],
          "resolve": {"axis": {"x": "independent", "y": "independent"}}
        },
        {
          "width": 230,
          "height": 35,
          "view": {"stroke": null},
          "layer": [
            {
              "data": {"name": "cb"},
              "mark": {"type": "rect", "clip": true},
              "encoding": {
                "x": {"field": "t", "type": "quantitative", "scale": {"domain": [1.803, 8.338], "nice": false, "zero": false},
                      "axis": {"orient": "bottom", "values": [2, 3, 4, 5, 6], "labelExpr": "datum.value + '/11'", "title": "temps", "grid": false, "labelFontSize": 17, "titleFontSize": 21, "labelPadding": 11, "titlePadding": 2}},
                "x2": {"field": "t2"},
                "y": {"datum": 0, "type": "quantitative", "scale": {"domain": [0, 2.0588], "nice": false, "zero": false}, "axis": null},
                "y2": {"datum": 1},
                "color": {"field": "t", "type": "quantitative", "scale": {"domain": [1.803, 2.62, 3.437, 4.254, 5.071, 5.887, 6.704, 7.521, 8.338], "range": ["#00008f", "#0000ff", "#0080ff", "#00ffff", "#80ff80", "#ffff00", "#ff8000", "#ff0000", "#800000"], "clamp": true}, "legend": null}
              }
            },
            {
              "data": {"name": "cbf"},
              "mark": {"type": "rect", "filled": false, "color": "#333333", "strokeWidth": 1},
              "encoding": {
                "x": {"field": "t", "type": "quantitative"},
                "x2": {"field": "t2"},
                "y": {"datum": 0, "type": "quantitative"},
                "y2": {"datum": 1}
              }
            }
          ]
        },
        {
          "width": 216,
          "height": 216,
          "title": {"text": "(c)", "anchor": "start", "frame": "group", "dx": -72, "offset": -44, "fontSize": 21, "baseline": "alphabetic"},
          "layer": [
            {
              "data": {"name": "pc"},
              "mark": {"type": "circle", "size": 28, "opacity": 1},
              "encoding": {
                "x": {"field": "h", "type": "quantitative", "scale": {"domain": [0, 120], "nice": false, "zero": false},
                      "axis": {"orient": "bottom", "values": [0, 50, 100], "title": "horizontal (mm)", "labelFontSize": 21, "titleFontSize": 21, "labelPadding": 8, "titlePadding": 9}},
                "y": {"field": "v", "type": "quantitative", "scale": {"domain": [-110, 10], "nice": false, "zero": false},
                      "axis": {"orient": "left", "values": [-100, -50, 0], "labelExpr": "replace(datum.label, '−', '-')", "title": "vertical (mm)", "labelFontSize": 21, "titleFontSize": 21, "labelPadding": 5, "titlePadding": 12}},
                "color": {"field": "t", "type": "quantitative", "scale": {"domain": [1.78, 2.396, 3.013, 3.629, 4.245, 4.861, 5.478, 6.094, 6.71], "range": ["#00008f", "#0000ff", "#0080ff", "#00ffff", "#80ff80", "#ffff00", "#ff8000", "#ff0000", "#800000"], "clamp": true}, "legend": null}
              }
            },
            {
              "data": {"name": "lc"},
              "mark": {"type": "rule", "color": "#000000", "strokeWidth": 1.5},
              "encoding": {
                "x": {"field": "x1", "type": "quantitative", "scale": {"domain": [0, 120], "nice": false, "zero": false},
                      "axis": {"orient": "top", "values": [0, 50, 100], "labels": false, "title": null}},
                "y": {"field": "y1", "type": "quantitative", "scale": {"domain": [-110, 10], "nice": false, "zero": false},
                      "axis": {"orient": "right", "values": [-100, -50, 0], "labels": false, "title": null}},
                "x2": {"field": "x2"},
                "y2": {"field": "y2"}
              }
            },
            {
              "data": {"name": "tc"},
              "mark": {"type": "text", "fontSize": 21, "align": "center", "baseline": "middle", "color": "#000000"},
              "encoding": {
                "x": {"field": "x", "type": "quantitative", "scale": {"domain": [0, 120], "nice": false, "zero": false}, "axis": null},
                "y": {"field": "y", "type": "quantitative", "scale": {"domain": [-110, 10], "nice": false, "zero": false}, "axis": null},
                "text": {"field": "label"}
              }
            }
          ],
          "resolve": {"axis": {"x": "independent", "y": "independent"}}
        }
      ],
      "spacing": 69,
      "bounds": "flush",
      "resolve": {"scale": {"x": "independent", "y": "independent", "color": "independent"}}
    }
  ],
  "spacing": 95,
  "bounds": "flush",
  "resolve": {"scale": {"x": "independent", "y": "independent", "color": "independent"}, "legend": {"color": "independent"}}
}
